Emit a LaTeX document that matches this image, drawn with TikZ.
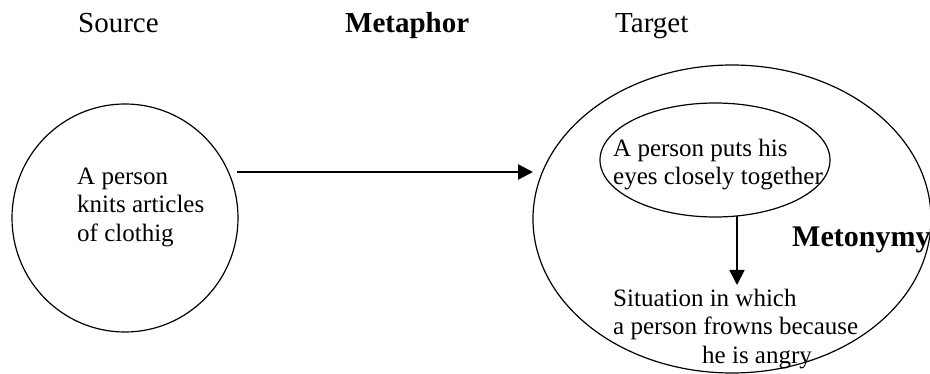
\documentclass[tikz,border=0pt]{standalone}
\usepackage{fontspec}
\setmainfont{Liberation Serif}
\usetikzlibrary{arrows.meta}
\begin{document}
\begin{tikzpicture}[x=1pt,y=-1pt,
  ring/.style={draw,line width=1.2pt},
  head/.style={anchor=base west,inner sep=0pt,font=\fontsize{29}{34}\selectfont},
  body/.style={anchor=base west,inner sep=0pt,font=\fontsize{25}{28.5}\selectfont},
  bighead/.style={anchor=base west,inner sep=0pt,font=\fontsize{30}{34}\selectfont\bfseries},
  mapto/.style={line width=2.4pt,-{Triangle[length=15pt,width=15pt]}},
  mapdown/.style={line width=1.8pt,-{Triangle[length=15pt,width=15pt]}}]
\useasboundingbox (0,0) rectangle (930,374);
% outlines
\draw[ring] (125,218) ellipse [x radius=113, y radius=114];
\draw[ring] (732,219) ellipse [x radius=199, y radius=154];
\draw[ring] (715,160) ellipse [x radius=115, y radius=57];
% headings
\node[head] (src) at (78,33) {Source};
\node[head,font=\fontsize{29}{34}\selectfont\bfseries] (met) at (345,33) {Metaphor};
\node[head] (tgt) at (615,33) {Target};
% source text
\node[body] (s1) at (77,185) {A person};
\node[body] (s2) at (77,213) {knits articles};
\node[body] (s3) at (77,242) {of clothig};
% inner text
\node[body] (i1) at (613,157) {A person puts his};
\node[body] (i2) at (613,185) {eyes closely together};
% metonymy
\node[bighead] (mety) at (792,247) {Metonymy};
% result text
\node[body] (r1) at (613,307) {Situation in which};
\node[body] (r2) at (613,335) {a person frowns because};
\node[body] (r3) at (702,363) {he is angry};
% connectors
\coordinate (a1) at (237,172);
\coordinate (a2) at (533,172);
\coordinate (d1) at (737,216);
\coordinate (d2) at (737,285);
\draw[mapto] (a1) -- (a2);
\draw[mapdown] (d1) -- (d2);
\end{tikzpicture}
\end{document}
